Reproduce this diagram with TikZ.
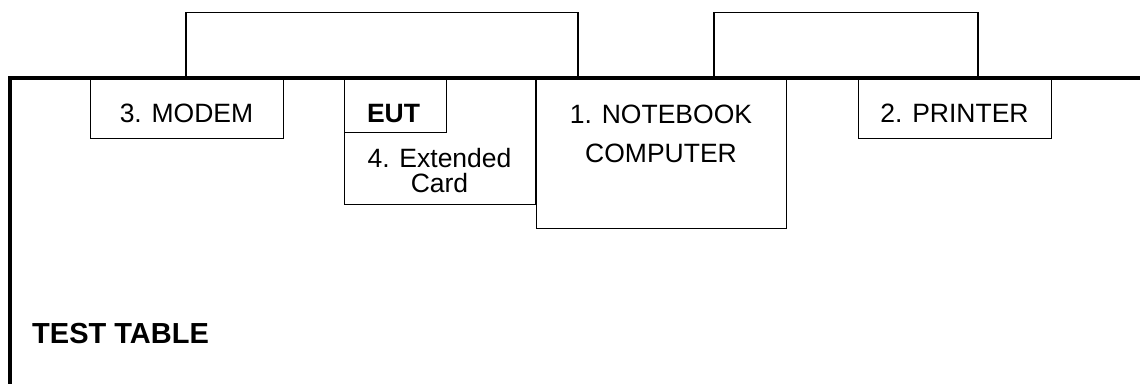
\documentclass[tikz,border=0pt]{standalone}
\usepackage{fontspec}
\setmainfont{Liberation Sans}
\begin{document}
\begin{tikzpicture}[x=1pt,y=-1pt,
  box/.style={draw=black, line width=1.2pt, inner sep=0pt, anchor=north west},
  lbl/.style={inner sep=0pt, anchor=base, font=\fontsize{26.5}{30}\selectfont},
  boldlbl/.style={inner sep=0pt, anchor=base, font=\fontsize{26.5}{30}\selectfont\bfseries},
  cable/.style={draw=black, line width=1.2pt},
  tableline/.style={draw=black, line width=4pt, line join=miter}]
\useasboundingbox (0,0) rectangle (1140,383);
% boxes
\node[box, minimum width=193pt, minimum height=60pt] (modem) at (90,78) {};
\node[box, minimum width=191pt, minimum height=126pt] (card) at (344,78) {};
\node[box, minimum width=102pt, minimum height=54pt] (eut) at (344,78) {};
\node[box, minimum width=250pt, minimum height=150pt] (notebook) at (536,78) {};
\node[box, minimum width=193pt, minimum height=60pt] (printer) at (858,78) {};
% labels
\node[lbl] (modemt) at (186.5,122) {3. MODEM};
\node[boldlbl] (eutt) at (393.5,122) {EUT};
\node[lbl] (cardt1) at (439.5,167) {4. Extended};
\node[lbl] (cardt2) at (439.5,192) {Card};
\node[lbl] (nbt1) at (661,123) {1. NOTEBOOK};
\node[lbl] (nbt2) at (661,162) {COMPUTER};
\node[lbl] (printert) at (954.5,122) {2. PRINTER};
\node[inner sep=0pt, anchor=base west, font=\fontsize{29}{33}\selectfont\bfseries] (table) at (32,343) {TEST TABLE};
% cables
\coordinate (c1a) at (186,78);
\coordinate (c1b) at (578,78);
\coordinate (c2a) at (714,78);
\coordinate (c2b) at (978,78);
\draw[cable] (c1a) -- ++(0,-65.7) -| (c1b);
\draw[cable] (c2a) -- ++(0,-65.7) -| (c2b);
% table edge
\coordinate (tbl) at (10,384);
\coordinate (ttl) at (10,78);
\coordinate (ttr) at (1141,78);
\draw[tableline] (tbl) -- (ttl) -- (ttr);
\end{tikzpicture}
\end{document}
